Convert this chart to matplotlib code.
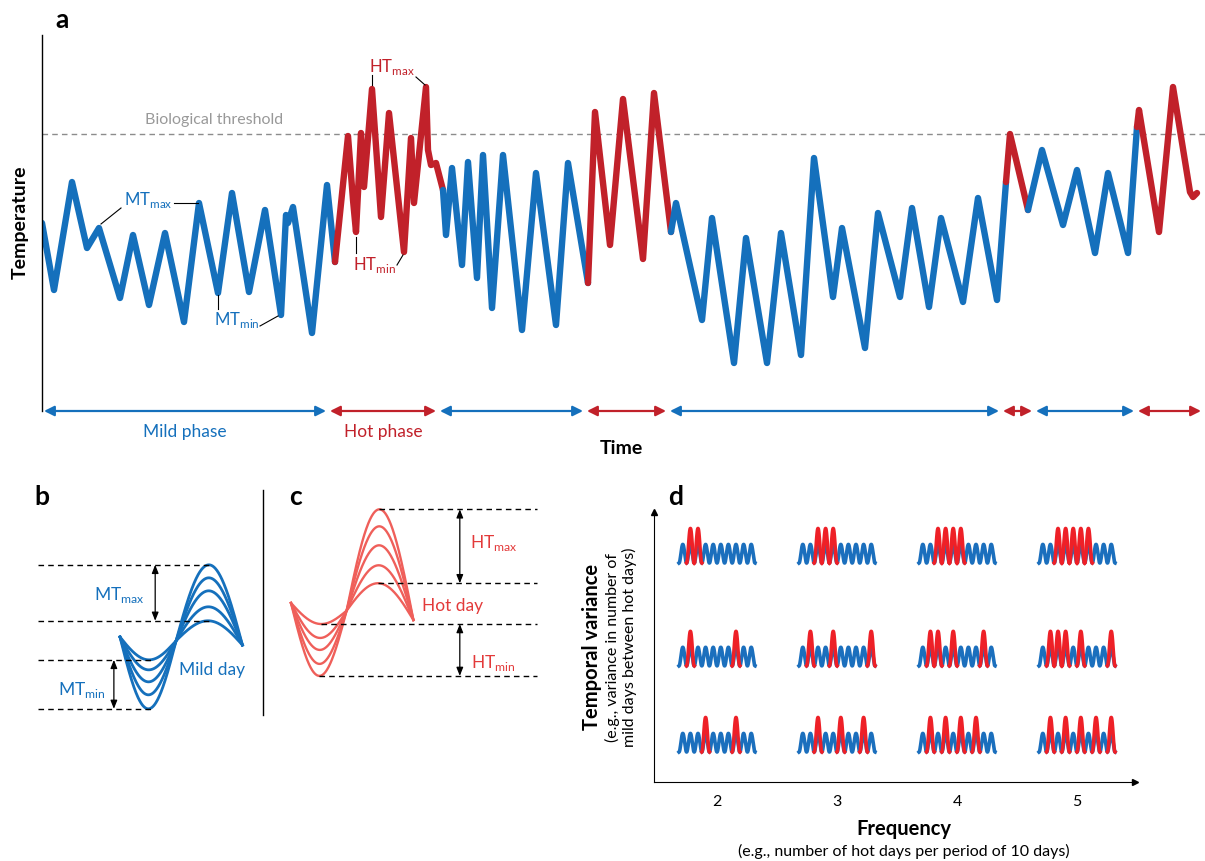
import numpy as np
import matplotlib
matplotlib.use('Agg')
import matplotlib.pyplot as plt
from matplotlib.lines import Line2D

W, H = 1205, 861
BLUE = '#1570bc'
RED = '#c1212a'
LIGHT_RED = '#ef5f5a'
TEXT_RED = '#e33a3a'
D_BLUE = '#1b6fbd'
D_RED = '#ee2027'

plt.rcParams['font.family'] = ['Lato', 'DejaVu Sans']

# ---- panel a: temperature trace (arbitrary time / temperature units) ----
time_a = [0, 12, 30, 45, 57, 78, 91, 107, 123, 142, 157, 176, 190, 207, 223, 239,
          244, 246, 251, 270, 285, 293, 306, 311, 314, 319, 322, 330, 339, 347,
          362, 369, 372, 384, 386, 389, 394, 401, 404, 410, 420, 426, 435, 441,
          450, 461, 480, 494, 514, 526, 546, 553, 568, 581, 601, 612, 629, 634,
          660, 670, 692, 704, 725, 739, 759, 772, 791, 800, 823, 836, 858, 870,
          887, 899, 921, 936, 955, 964, 968, 986, 1000, 1021, 1035, 1053, 1066,
          1086, 1095, 1097, 1117, 1131, 1148, 1151, 1155]
temp_a = [182, 115, 223, 157, 177, 107, 170, 100, 172, 83, 202, 112, 212, 113, 195, 90,
          190, 182, 198, 72, 220, 143, 269, 205, 173, 272, 218, 316, 188, 292,
          153, 267, 202, 318, 255, 240, 242, 215, 170, 237, 140, 243, 127, 250,
          97, 250, 75, 232, 80, 242, 122, 293, 160, 306, 146, 312, 173, 202,
          85, 187, 42, 167, 42, 172, 50, 247, 108, 177, 57, 192, 108, 197,
          98, 187, 103, 207, 105, 223, 271, 195, 255, 180, 235, 152, 232,
          152, 278, 295, 173, 318, 213, 208, 212]
phase_break_idx = [21, 37, 50, 56, 77, 79, 86]   # trace index where mild/hot alternate
phase_edges = [0, 286, 396, 543, 626, 959, 992, 1094, 1161]
threshold = 271

fig = plt.figure(figsize=(W / 100, H / 100), dpi=100)
fig.patch.set_facecolor('white')

ax = fig.add_axes([42 / W, 1 - 411 / H, (W - 42) / W, (411 - 35) / H])
ax.set_xlim(0, 1163)
ax.set_ylim(-6, 370)
for s in ['top', 'right', 'bottom']:
    ax.spines[s].set_visible(False)
ax.spines['left'].set_linewidth(1)
ax.set_xticks([])
ax.set_yticks([])

ax.axhline(threshold, color='#8c8c8c', lw=1, dashes=(4, 3))
ax.text(103, 285, 'Biological threshold', color='#999999', fontsize=11.5, va='center')

bounds = [0] + phase_break_idx + [len(time_a) - 1]
for i in range(len(bounds) - 1):
    s, e = bounds[i], bounds[i + 1]
    col = BLUE if i % 2 == 0 else RED
    ax.plot(time_a[s:e + 1], temp_a[s:e + 1], color=col, lw=4.6,
            solid_joinstyle='round', solid_capstyle='round')

# phase arrows
for i in range(len(phase_edges) - 1):
    col = BLUE if i % 2 == 0 else RED
    ax.annotate('', xy=(phase_edges[i + 1] - 2, -6), xytext=(phase_edges[i] + 2, -6),
                arrowprops=dict(arrowstyle='<|-|>,head_length=0.6,head_width=0.3',
                                color=col, lw=1.6, shrinkA=0, shrinkB=0),
                annotation_clip=False)
ax.text((phase_edges[0] + phase_edges[1]) / 2, -27, 'Mild phase', color=BLUE,
        fontsize=12.5, ha='center', va='center', clip_on=False)
ax.text((phase_edges[1] + phase_edges[2]) / 2, -27, 'Hot phase', color=RED,
        fontsize=12.5, ha='center', va='center', clip_on=False)

# labels with leader lines
ax.text(82, 205, r'MT$_\mathregular{max}$', color=BLUE, fontsize=12, va='center')
ax.text(172, 85, r'MT$_\mathregular{min}$', color=BLUE, fontsize=12, va='center')
ax.text(327, 338, r'HT$_\mathregular{max}$', color=RED, fontsize=12, va='center')
ax.text(311, 140, r'HT$_\mathregular{min}$', color=RED, fontsize=12, va='center')
leaders = [((79, 197), (59, 181)), ((132, 202), (156, 202)),
           ((176, 110), (176, 96)), ((218, 79), (236, 89)),
           ((330, 330), (330, 320)), ((374, 328), (383, 320)),
           ((314, 168), (314, 152)), ((355, 140), (361, 150))]
for p0, p1 in leaders:
    ax.plot([p0[0], p1[0]], [p0[1], p1[1]], color='k', lw=0.8)

fig.text(621 / W, 1 - 448 / H, 'Time', fontsize=14, fontweight='bold', ha='center', va='center')
fig.text(20 / W, 1 - 222 / H, 'Temperature', fontsize=14, fontweight='bold',
         rotation=90, ha='center', va='center')

# ---- panels b and c: daily cycles ----
day_hours = np.linspace(0, 24, 300)
mild_min_amp = [2.1, 3.1, 4.3, 5.6, 7.0]
mild_max_amp = [2.2, 3.6, 5.2, 6.5, 7.8]
hot_min_amp = [1.7, 3.1, 4.3, 5.7, 6.9]
hot_max_amp = [3.2, 5.0, 7.0, 8.9, 10.6]


def day_curve(a_lo, a_hi, cross, lvl0, lvl1):
    t = day_hours
    base = lvl0 + (lvl1 - lvl0) * t / 24
    wave = np.where(t <= cross, -a_lo * np.sin(np.pi * t / cross),
                    a_hi * np.sin(np.pi * (t - cross) / (24 - cross)))
    return base + wave


PXH = 5.1  # px per hour
ax_b = fig.add_axes([0, 1 - 725 / H, 262 / W, 245 / H])
ax_b.set_xlim(-120 / PXH, 142 / PXH)
ax_b.set_ylim((641 - 725) / 10, (641 - 480) / 10)
ax_b.axis('off')
ax_c = fig.add_axes([264 / W, 1 - 725 / H, 300 / W, 245 / H])
ax_c.set_xlim((264 - 291) / PXH, (564 - 291) / PXH)
ax_c.set_ylim((611 - 725) / 10, (611 - 480) / 10)
ax_c.axis('off')

mild_curves = [day_curve(lo, hi, 11, 0.4, -0.4) for lo, hi in zip(mild_min_amp, mild_max_amp)]
hot_curves = [day_curve(lo, hi, 10.9, 0.8, -0.9) for lo, hi in zip(hot_min_amp, hot_max_amp)]
for y in mild_curves:
    ax_b.plot(day_hours, y, color=BLUE, lw=2.0)
for y in hot_curves:
    ax_c.plot(day_hours, y, color=LIGHT_RED, lw=1.7)

dash = dict(color='k', lw=1, dashes=(4, 3))


def extremes(curves):
    peaks = [(y.max(), day_hours[y.argmax()]) for y in curves]
    troughs = [(y.min(), day_hours[y.argmin()]) for y in curves]
    return max(peaks), min(peaks), max(troughs), min(troughs)


top, low_pk, hi_tr, bot = extremes(mild_curves)
for lvl, hr in [top, low_pk, hi_tr, bot]:
    ax_b.plot([-16, hr + 0.6], [lvl, lvl], **dash)
arr = dict(arrowstyle='<|-|>,head_length=0.5,head_width=0.2', color='k', lw=0.9,
           shrinkA=0, shrinkB=0)
ax_b.annotate('', xy=(6.9, top[0]), xytext=(6.9, low_pk[0]), arrowprops=arr)
ax_b.annotate('', xy=(-1.2, hi_tr[0]), xytext=(-1.2, bot[0]), arrowprops=arr)
ax_b.text(-0.1, 4.6, r'MT$_\mathregular{max}$', color=BLUE, fontsize=12.5, ha='center', va='center')
ax_b.text(-7.5, -4.9, r'MT$_\mathregular{min}$', color=BLUE, fontsize=12.5, ha='center', va='center')
ax_b.text(18.1, -2.9, 'Mild day', color=BLUE, fontsize=12.5, ha='center', va='center')

top, low_pk, hi_tr, bot = extremes(hot_curves)
for lvl, hr in [top, low_pk, hi_tr, bot]:
    ax_c.plot([hr, 48.2], [lvl, lvl], **dash)
ax_c.annotate('', xy=(33.1, top[0]), xytext=(33.1, low_pk[0]), arrowprops=arr)
ax_c.annotate('', xy=(33.1, hi_tr[0]), xytext=(33.1, bot[0]), arrowprops=arr)
ax_c.text(39.8, 6.8, r'HT$_\mathregular{max}$', color=TEXT_RED, fontsize=12.5, ha='center', va='center')
ax_c.text(39.6, -5.2, r'HT$_\mathregular{min}$', color=TEXT_RED, fontsize=12.5, ha='center', va='center')
ax_c.text(31.6, 0.5, 'Hot day', color=TEXT_RED, fontsize=12.5, ha='center', va='center')

fig.add_artist(Line2D([263 / W, 263 / W], [1 - 490 / H, 1 - 715 / H], color='k', lw=1))

# ---- panel d: frequency vs temporal variance ----
frequencies = [2, 3, 4, 5]
row_baselines = [0.111, 0.430, 0.811]   # low, medium, high variance
hot_days = {
    'low': [[4, 8], [3, 6, 9], [2, 4, 6, 8], [2, 4, 6, 8, 10]],
    'medium': [[2, 8], [2, 5, 10], [2, 3, 5, 9], [2, 3, 4, 6, 10]],
    'high': [[2, 3], [3, 4, 5], [3, 4, 5, 6], [3, 4, 5, 6, 7]],
}
n_days = 10
day_w = 7.6 / 120
h_blue, h_red = 0.069, 0.128

ax_d = fig.add_axes([654 / W, 1 - 782 / H, (1135 - 654) / W, (782 - 512) / H])
ax_d.set_xlim(1.475, 5.483)
ax_d.set_ylim(0, 1)
for s in ['top', 'right']:
    ax_d.spines[s].set_visible(False)
ax_d.plot(1, 0, '>k', ms=4, transform=ax_d.transAxes, clip_on=False)
ax_d.plot(0, 1, '^k', ms=4, transform=ax_d.transAxes, clip_on=False)
ax_d.set_xticks(frequencies)
ax_d.set_yticks([])
ax_d.tick_params(axis='x', length=0, pad=9, labelsize=11.5)

u = np.linspace(0, n_days, 600)
for base, key in zip(row_baselines, ['low', 'medium', 'high']):
    for f, days in zip(frequencies, hot_days[key]):
        x = f + (u - n_days / 2) * day_w
        ax_d.plot(x, base + h_blue * (1 - np.cos(2 * np.pi * u)) / 2, color=D_BLUE, lw=2.6)
        for k in days:
            uu = np.linspace(k - 1, k, 60)
            ax_d.plot(f + (uu - n_days / 2) * day_w,
                      base + h_red * (1 - np.cos(2 * np.pi * uu)) / 2, color=D_RED, lw=2.6)

fig.text(904 / W, 1 - 829 / H, 'Frequency', fontsize=14.5, fontweight='bold', ha='center', va='center')
fig.text(904 / W, 1 - 851 / H, '(e.g., number of hot days per period of 10 days)',
         fontsize=11.5, ha='center', va='center')
fig.text(592 / W, 1 - 647 / H, 'Temporal variance', fontsize=14.5, fontweight='bold',
         rotation=90, ha='center', va='center')
fig.text(612 / W, 1 - 647 / H, '(e.g., variance in number of', fontsize=11.5,
         rotation=90, ha='center', va='center')
fig.text(629 / W, 1 - 647 / H, 'mild days between hot days)', fontsize=11.5,
         rotation=90, ha='center', va='center')

for lab, (px, py) in zip('abcd', [(62, 20), (42, 497), (296, 497), (676, 497)]):
    fig.text(px / W, 1 - py / H, lab, fontsize=19, fontweight='bold', ha='center', va='center')

fig.savefig('out.png', dpi=100, facecolor='white')
